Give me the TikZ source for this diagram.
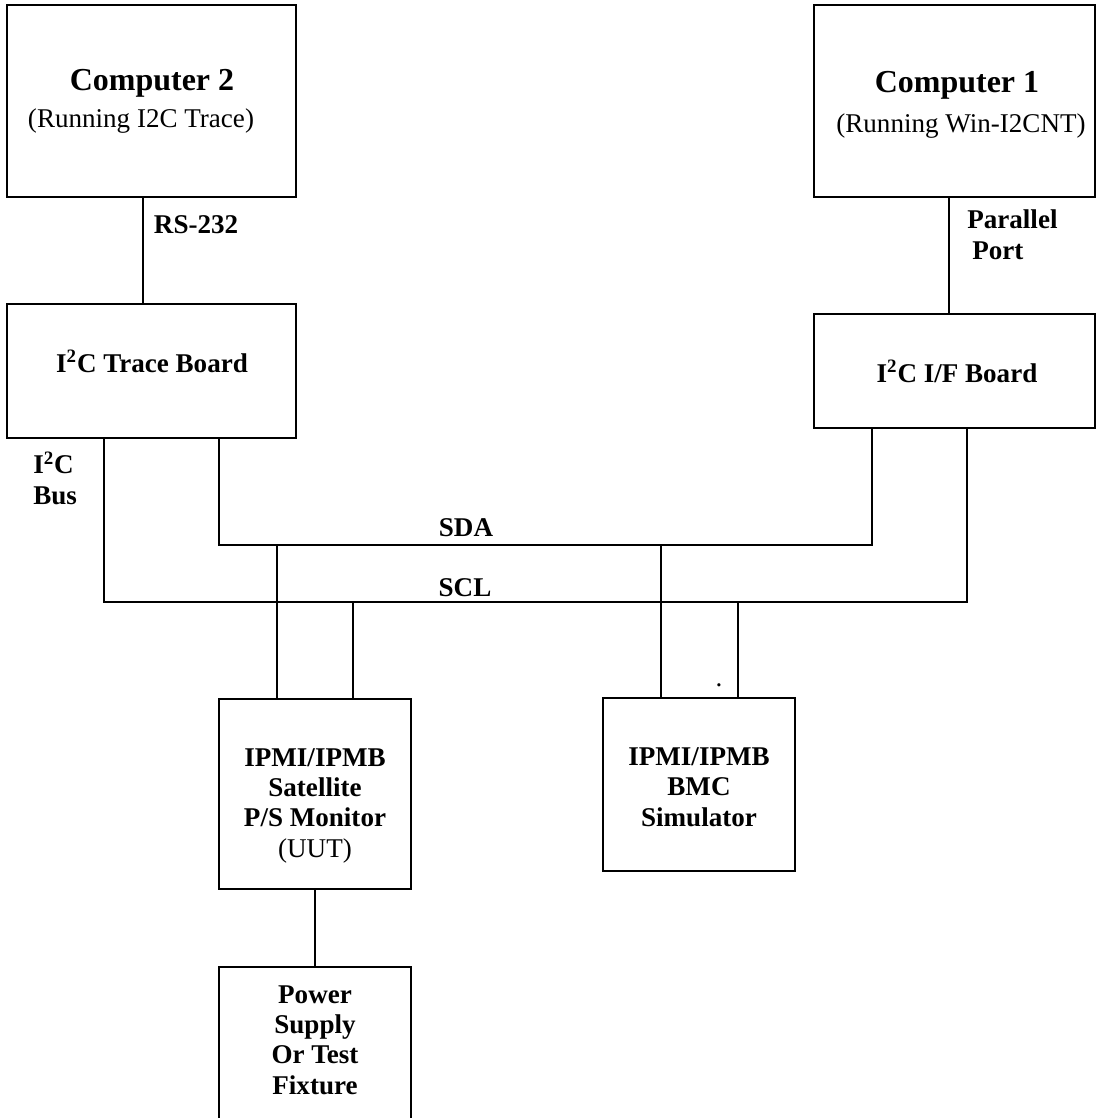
\documentclass[tikz,border=0pt]{standalone}
\usepackage{fontspec}
\setmainfont{Liberation Serif}
\usetikzlibrary{positioning,calc}

\tikzset{
  unit/.style={draw, line width=1.1pt, inner sep=0pt, outer sep=0pt},
  tag/.style={font=\fontsize{15.4}{17.1}\selectfont\bfseries, inner sep=0pt, align=center},
  note/.style={font=\fontsize{15.4}{17.1}\selectfont, inner sep=0pt},
  head/.style={font=\fontsize{18.2}{21}\selectfont\bfseries, inner sep=0pt},
  wire/.style={line width=1.1pt}
}

\begin{document}
\begin{tikzpicture}[x=0.2mm,y=-0.2mm]
  \clip (0,0) rectangle (1096,1118);

  % Computers
  \node[unit, minimum width=57.8mm, minimum height=38.4mm] (comp2) at (151.5,101) {};
  \node[unit, minimum width=56.2mm, minimum height=38.4mm] (comp1) at (954.5,101) {};
  \node[head, anchor=base] (comp2t) at (152,90) {Computer 2};
  \node[note, anchor=base] (comp2s) at (141,127) {(Running I2C Trace)};
  \node[head, anchor=base] (comp1t) at (957,92) {Computer 1};
  \node[note, anchor=base] (comp1s) at (961,132) {(Running Win-I2CNT)};

  % Boards
  \node[unit, minimum width=57.8mm, minimum height=26.8mm] (trace) at (151.5,371) {};
  \node[unit, minimum width=56.2mm, minimum height=22.8mm] (ifb) at (954.5,371) {};
  \node[tag, anchor=base] (tracet) at (152,372) {I\textsuperscript{2}C Trace Board};
  \node[tag, anchor=base] (ifbt) at (957,382) {I\textsuperscript{2}C I/F Board};

  % Devices on the bus
  \node[unit, minimum width=38.4mm, minimum height=38mm] (sat) at (315,794) {};
  \node[unit, minimum width=38.4mm, minimum height=34.6mm] (bmc) at (699,784.5) {};
  \node[unit, minimum width=38.4mm, minimum height=34.6mm] (psu) at (315,1053.5) {};
  \node[tag, anchor=base] (satt) at (315,857) {IPMI/IPMB\\Satellite\\P/S Monitor\\\mdseries(UUT)};
  \node[tag, anchor=base] (bmct) at (699,826) {IPMI/IPMB\\BMC\\Simulator};
  \node[tag, anchor=base] (psut) at (315,1094) {Power\\Supply\\Or Test\\Fixture};

  % Links to the computers
  \draw[wire] ([xshift=-1.7mm]comp2.south) -- node[tag, pos=0.26, right=2mm] (rs) {RS-232} ([xshift=-1.7mm]trace.north);
  \draw[wire] ([xshift=-1.1mm]comp1.south) -- ([xshift=-1.1mm]ifb.north);
  \node[tag, anchor=base west, align=left] (par) at (967,259) {Parallel\\\hspace*{1mm}Port};

  % SDA and SCL
  \coordinate (sdaL) at (219,545);
  \coordinate (sdaR) at (872,545);
  \coordinate (sclL) at (104,602);
  \coordinate (sclR) at (967,602);
  \draw[wire] (trace.south -| sdaL) -- (sdaL) -- (sdaR) -- (ifb.south -| sdaR);
  \draw[wire] (trace.south -| sclL) -- (sclL) -- (sclR) -- (ifb.south -| sclR);
  \node[tag, anchor=base] (sda) at (466,536) {SDA};
  \node[tag, anchor=base] (scl) at (465,596) {SCL};
  \node[tag, anchor=base west, align=left] (i2cbus) at (33,504) {I\textsuperscript{2}C\\Bus};

  % Taps
  \coordinate (satA) at (277,545);
  \coordinate (satB) at (353,602);
  \coordinate (bmcA) at (661,545);
  \coordinate (bmcB) at (738,602);
  \draw[wire] (satA) -- (sat.north -| satA);
  \draw[wire] (satB) -- (sat.north -| satB);
  \draw[wire] (bmcA) -- (bmc.north -| bmcA);
  \draw[wire] (bmcB) -- (bmc.north -| bmcB);
  \draw[wire] (sat.south) -- (psu.north);
  \node[note, anchor=base] (dot) at (719,686) {.};
\end{tikzpicture}
\end{document}
